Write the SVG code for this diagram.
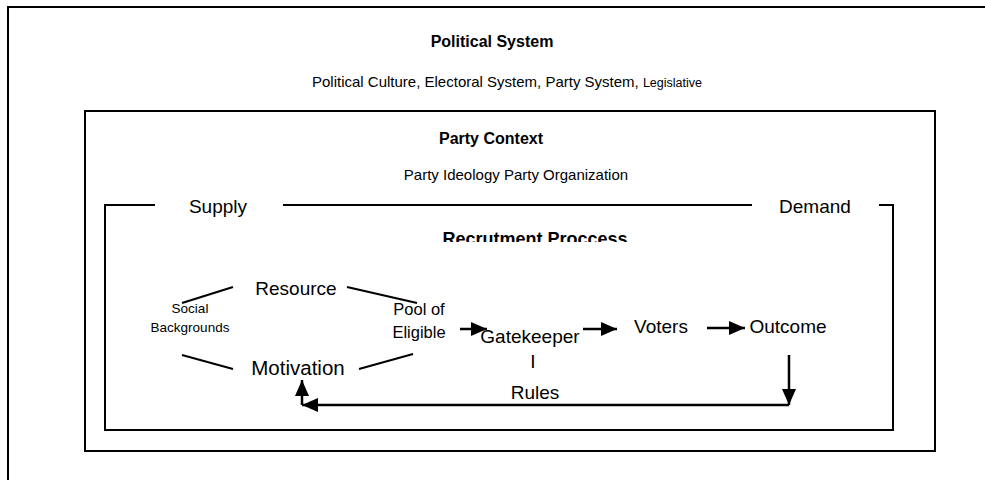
<svg xmlns="http://www.w3.org/2000/svg" width="985" height="480" viewBox="0 0 985 480">
  <style>
    text { font-family: "Liberation Sans", Arial, sans-serif; fill: #000; }
    .title { font-weight: bold; font-size: 16px; text-anchor: middle; }
    .heading { font-weight: bold; font-size: 18px; text-anchor: middle; }
    .sub { font-size: 15px; text-anchor: middle; }
    .lbl { font-size: 19px; text-anchor: middle; }
    .big { font-size: 20.5px; text-anchor: middle; }
    .small { font-size: 16.5px; text-anchor: middle; }
    .tiny { font-size: 13.5px; text-anchor: middle; }
    .frame { fill: none; stroke: #000; stroke-width: 2; }
    .link { fill: none; stroke: #000; stroke-width: 2; }
    .arrow { fill: none; stroke: #000; stroke-width: 2.5; marker-end: url(#head); }
  </style>
  <defs>
    <marker id="head" markerUnits="userSpaceOnUse" markerWidth="16" markerHeight="14" refX="16" refY="7" orient="auto">
      <path d="M0,0 L16,7 L0,14 Z" fill="#000"/>
    </marker>
    <clipPath id="clipHeading">
      <rect x="400" y="220" width="260" height="22"/>
    </clipPath>
  </defs>

  <!-- political system frame -->
  <g id="political-system">
    <path class="frame" d="M8,482 V7 H987"/>
    <text class="title" x="492" y="47">Political System</text>
    <text class="sub" x="507" y="87">Political Culture, Electoral System, Party System, <tspan style="font-size:12.5px">Legislative</tspan></text>
  </g>

  <!-- party context frame -->
  <g id="party-context">
    <rect class="frame" x="85" y="111" width="850" height="340"/>
    <text class="title" x="491" y="144">Party Context</text>
    <text class="sub" x="516" y="180">Party Ideology Party Organization</text>
  </g>

  <!-- recruitment process frame -->
  <g id="recruitment-process">
    <path class="frame" d="M155,205 H105 V430 H893 V205 H879"/>
    <path class="frame" d="M283,205 H752"/>
    <text class="lbl" x="218" y="213">Supply</text>
    <text class="lbl" x="815" y="213">Demand</text>
    <text class="heading" x="535" y="245" clip-path="url(#clipHeading)">Recrutment Proccess</text>
  </g>

  <g id="node-resource"><text class="lbl" x="296" y="295">Resource</text></g>
  <g id="node-social"><text class="tiny" x="190" y="313">Social</text><text class="tiny" x="190" y="332">Backgrounds</text></g>
  <g id="node-pool"><text class="small" x="419" y="315">Pool of</text><text class="small" x="419" y="338">Eligible</text></g>
  <g id="node-motivation"><text class="big" x="298" y="375">Motivation</text></g>
  <g id="node-gatekeeper"><text class="lbl" x="530" y="343">Gatekeeper</text></g>
  <g id="node-rules"><text class="lbl" x="533" y="368">I</text><text class="lbl" x="535" y="399">Rules</text></g>
  <g id="node-voters"><text class="lbl" x="661" y="333">Voters</text></g>
  <g id="node-outcome"><text class="lbl" x="788" y="333">Outcome</text></g>

  <!-- connectors -->
  <g id="connectors">
    <path class="link" d="M182,303 L233,287"/>
    <path class="link" d="M347,287 L417,303"/>
    <path class="link" d="M182,355 L233,369"/>
    <path class="link" d="M359,369 L413,354"/>
    <path class="arrow" d="M460,329 H487"/>
    <path class="arrow" d="M583,329 H617"/>
    <path class="arrow" d="M707,328 H745"/>
    <path class="arrow" d="M789,355 V405"/>
    <path class="arrow" d="M789,405 H302"/>
    <path class="arrow" d="M302,405 V380"/>
  </g>
</svg>
